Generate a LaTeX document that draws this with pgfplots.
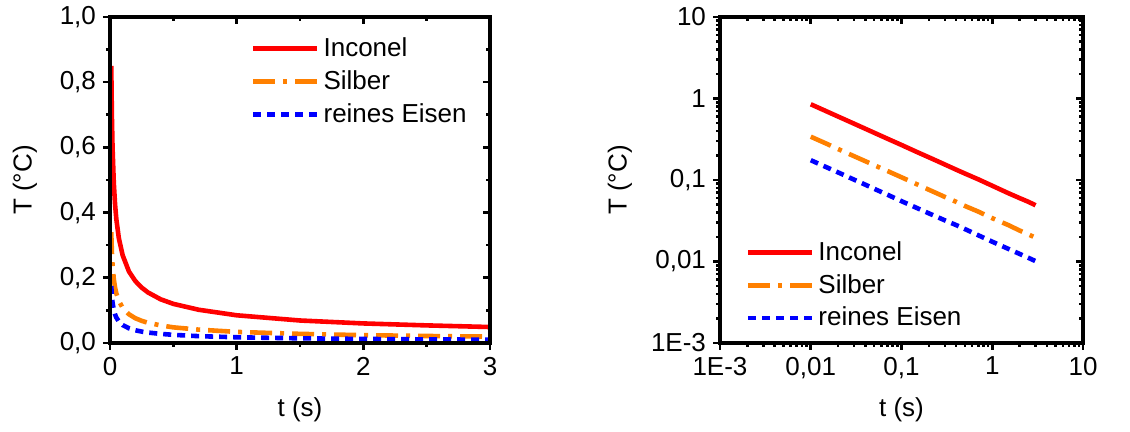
\documentclass[border=0pt]{standalone}
\usepackage{fontspec}
\setmainfont{Liberation Sans}
\usepackage{pgfplots}
\pgfplotsset{compat=1.18}
\usepackage{pgfplotstable}

\definecolor{cinc}{RGB}{255,0,0}
\definecolor{csil}{RGB}{255,128,0}
\definecolor{ceis}{RGB}{0,0,255}

\pgfplotstableread{
t     inc    sil     eis
0.01  0.850  0.340   0.175
0.015 0.694  0.278   0.143
0.02  0.601  0.240   0.124
0.03  0.491  0.196   0.101
0.04  0.425  0.170   0.0875
0.05  0.380  0.152   0.078
0.07  0.321  0.129   0.066
0.1   0.269  0.108   0.055
0.15  0.219  0.088   0.045
0.2   0.190  0.076   0.039
0.25  0.170  0.068   0.035
0.3   0.155  0.062   0.032
0.4   0.134  0.054   0.028
0.5   0.120  0.048   0.025
0.7   0.102  0.041   0.021
1     0.085  0.034   0.0175
1.5   0.069  0.028   0.0143
2     0.060  0.024   0.0124
2.5   0.054  0.0215  0.0111
3     0.049  0.0196  0.0101
}\datatable

\newcommand{\fnt}{\fontsize{13pt}{15pt}\selectfont}

\pgfplotsset{
  panel/.style={
    scale only axis, width=190pt, height=163pt,
    anchor=south west,
    axis line style={line width=1.7pt},
    every tick/.style={black, line width=1.3pt},
    major tick length=3.5pt, minor tick length=2pt,
    tick label style={font=\fnt},
    label style={font=\fnt},
    /pgf/number format/assume math mode=true,
    /pgf/number format/use comma,
  },
  outer/.style={panel, tick align=outside, xtick pos=left, ytick pos=left,
    xlabel style={at={(axis description cs:0.5,0)}, anchor=center, yshift=-33.5pt},
    legend style={draw=none, fill=none, font=\fnt, inner sep=0pt,
      row sep=1.5pt, cells={anchor=west}},
    legend image code/.code={\draw[##1] (0pt,0pt) -- (32pt,0pt);},
  },
  inner/.style={panel, tick align=inside, xtick pos=right, ytick pos=right,
    xticklabels={}, yticklabels={}},
  sinc/.style={cinc, line width=2.3pt},
  ssil/.style={csil, line width=2.3pt, dash pattern=on 11pt off 4pt on 2pt off 4pt},
  seis/.style={ceis, line width=2.3pt, dash pattern=on 4pt off 3pt},
}

\begin{document}
\begin{tikzpicture}
\useasboundingbox (0,0) rectangle (565pt,216pt);

% linear panel
\begin{axis}[outer, at={(55pt,44.5pt)},
  xmin=0, xmax=3, ymin=0, ymax=1,
  xtick={0,1,2,3}, minor x tick num=1,
  ytick={0,0.2,...,1.0}, minor y tick num=1,
  yticklabel style={/pgf/number format/fixed, /pgf/number format/fixed zerofill,
    /pgf/number format/precision=1},
  xlabel={t (s)}, ylabel={T (°C)},
  ylabel style={at={(axis description cs:-0.2237,0.5)}, anchor=center},
  legend style={at={(axis description cs:0.37,0.95)}, anchor=north west},
]
\addplot[sinc] table[x=t, y=inc] {\datatable};
\addplot[ssil] table[x=t, y=sil] {\datatable};
\addplot[seis] table[x=t, y=eis] {\datatable};
\legend{Inconel, Silber, reines Eisen}
\end{axis}
\begin{axis}[inner, at={(55pt,44.5pt)},
  xmin=0, xmax=3, ymin=0, ymax=1,
  xtick={0,1,2,3}, minor x tick num=1,
  ytick={0,0.2,...,1.0}, minor y tick num=1]
\end{axis}

% log-log panel
\begin{axis}[outer, at={(360pt,44.5pt)}, width=181.5pt,
  xmode=log, ymode=log,
  xmin=1e-3, xmax=10, ymin=1e-3, ymax=10,
  xtick={0.001,0.01,0.1,1,10}, ytick={0.001,0.01,0.1,1,10},
  xticklabels={1E-3,{0,01},{0,1},1,10},
  yticklabels={1E-3,{0,01},{0,1},1,10},
  xlabel={t (s)}, ylabel={T (°C)},
  ylabel style={at={(axis description cs:-0.2755,0.5)}, anchor=center},
  legend style={at={(axis description cs:0.07,0.325)}, anchor=north west},
]
\addplot[sinc] table[x=t, y=inc] {\datatable};
\addplot[ssil] table[x=t, y=sil] {\datatable};
\addplot[seis] table[x=t, y=eis] {\datatable};
\legend{Inconel, Silber, reines Eisen}
\end{axis}
\begin{axis}[inner, at={(360pt,44.5pt)}, width=181.5pt,
  xmode=log, ymode=log,
  xmin=1e-3, xmax=10, ymin=1e-3, ymax=10,
  xtick={0.001,0.01,0.1,1,10}, ytick={0.001,0.01,0.1,1,10}]
\end{axis}
\end{tikzpicture}
\end{document}
